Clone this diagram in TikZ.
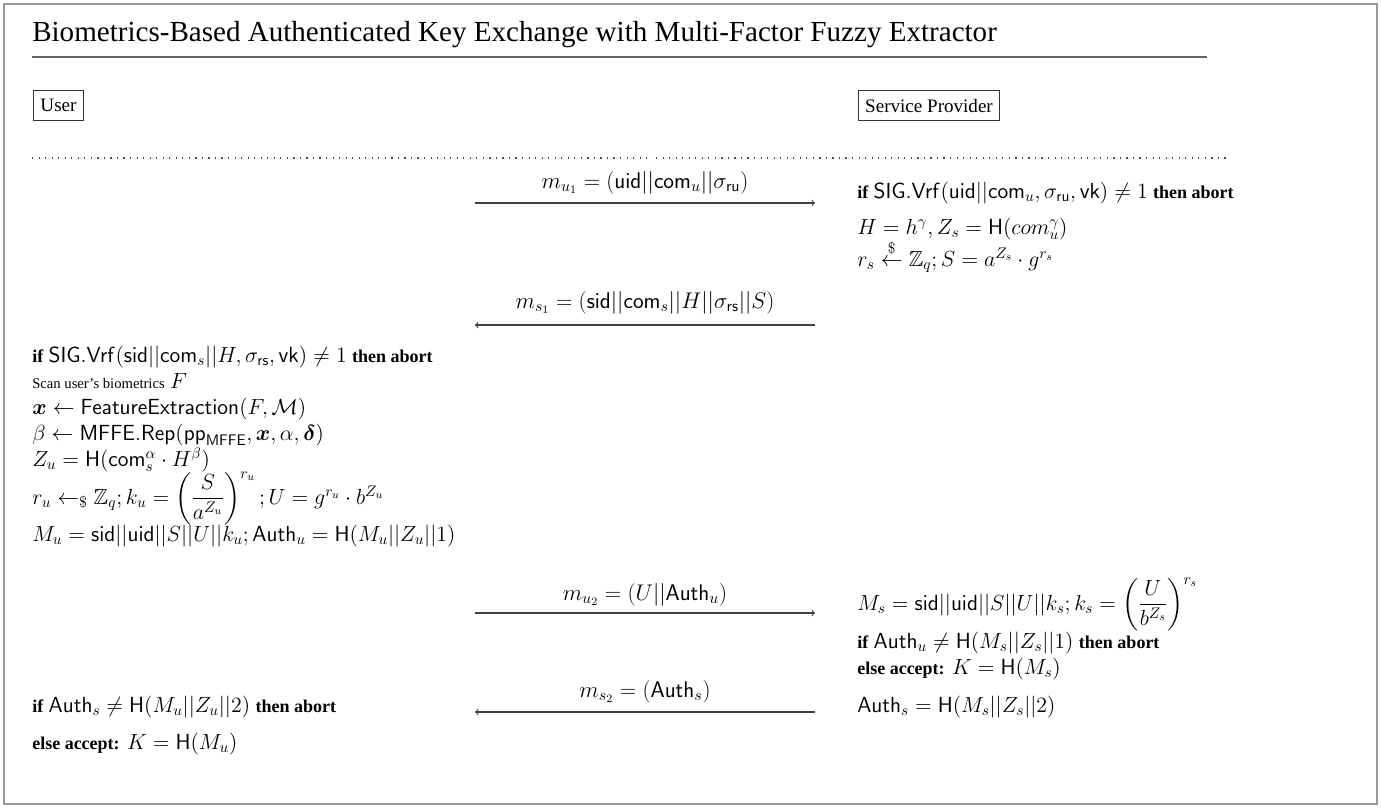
\RequirePackage{fix-cm}
\documentclass[tikz,border=0pt]{standalone}
\usepackage{amsmath,amssymb,bm}
\usepackage[no-math]{fontspec}
\setmainfont{Liberation Serif}
\newcommand\tx[1]{{\fontsize{11}{13}\selectfont #1}}
\newcommand\tb[1]{{\fontsize{13.5}{16}\selectfont\bfseries #1}}
\tikzset{
  line/.style={anchor=base west, inner sep=0pt, font=\fontsize{16.4}{20}\selectfont},
  lbl/.style={anchor=base, inner sep=0pt, font=\fontsize{17}{20}\selectfont},
  party/.style={draw=black!80, line width=0.6pt, inner xsep=5pt, minimum height=22.5pt, font=\fontsize{14.3}{16}\selectfont},
  msg/.style={draw=black!75, line width=0.8pt, ->},
  sep/.style={draw=black!70, line width=0.9pt, dash pattern=on 0.9pt off 4pt},
}
\begin{document}
\begin{tikzpicture}[x=0.75pt,y=-0.75pt]
\useasboundingbox (0,0) rectangle (1382,808);
\draw[black!40, line width=0.8pt] (4,4) rectangle (1377,804);
\node[anchor=base west, inner sep=0pt, font=\fontsize{21.8}{25}\selectfont] (title) at (32,41)
  {Biometrics-Based Authenticated Key Exchange with Multi-Factor Fuzzy Extractor};
\coordinate (ulA) at (32,57);
\coordinate (ulB) at (1207,57);
\draw[black!60, line width=1.5pt] (ulA) -- (ulB);
\node[party] (user) at (58.5,105) {User};
\node[party] (sp) at (929,105.5) {Service Provider};
\coordinate (d1) at (32,158); \coordinate (d2) at (650,158);
\coordinate (d3) at (656,158); \coordinate (d4) at (1230,158);
\draw[sep] (d1) -- (d2);
\draw[sep] (d3) -- (d4);
% message 1
\coordinate (a1s) at (475,203); \coordinate (a1e) at (815,203);
\draw[msg] (a1s) -- (a1e);
\node[lbl] (m1) at (645,188) {$m_{u_1} = (\mathsf{uid}||\mathsf{com}_u||\sigma_{\mathsf{ru}})$};
% server 1
\node[line] (r1) at (857,198) {\tb{if} $\mathsf{SIG.Vrf}(\mathsf{uid}||\mathsf{com}_u, \sigma_{\mathsf{ru}}, \mathsf{vk}) \neq 1$ \tb{then abort}};
\node[line] (r2) at (857,234) {$H = h^{\gamma}, Z_s = \mathsf{H}(com_u^{\gamma})$};
\node[line] (r3) at (857,266) {$r_s \overset{\$}{\leftarrow} \mathbb{Z}_q; S = a^{Z_s} \cdot g^{r_s}$};
% message 2
\coordinate (a2s) at (815,325); \coordinate (a2e) at (475,325);
\draw[msg] (a2s) -- (a2e);
\node[lbl] (m2) at (645,308) {$m_{s_1} = (\mathsf{sid}||\mathsf{com}_s||H||\sigma_{\mathsf{rs}}||S)$};
% user 1
\node[line] (u1) at (32,362) {\tb{if} $\mathsf{SIG.Vrf}(\mathsf{sid}||\mathsf{com}_s||H, \sigma_{\mathsf{rs}}, \mathsf{vk}) \neq 1$ \tb{then abort}};
\node[line] (u2) at (32,388) {\tx{Scan user's biometrics} $F$};
\node[line] (u3) at (32,414) {$\boldsymbol{x} \leftarrow \mathsf{FeatureExtraction}(F, \mathcal{M})$};
\node[line] (u4) at (32,440) {$\beta \leftarrow \mathsf{MFFE.Rep}(\mathsf{pp}_{\mathsf{MFFE}}, \boldsymbol{x}, \alpha, \boldsymbol{\delta})$};
\node[line] (u5) at (32,466) {$Z_u = \mathsf{H}(\mathsf{com}_s^{\alpha} \cdot H^{\beta})$};
\node[line] (u6) at (32,504) {$r_u \leftarrow_{\$} \mathbb{Z}_q; k_u = \left(\dfrac{S}{a^{Z_u}}\right)^{r_u}; U = g^{r_u} \cdot b^{Z_u}$};
\node[line] (u7) at (32,541) {$M_u = \mathsf{sid}||\mathsf{uid}||S||U||k_u; \mathsf{Auth}_u = \mathsf{H}(M_u||Z_u||1)$};
% message 3
\coordinate (a3s) at (475,613); \coordinate (a3e) at (815,613);
\draw[msg] (a3s) -- (a3e);
\node[lbl] (m3) at (645,600) {$m_{u_2} = (U||\mathsf{Auth}_u)$};
% server 2
\node[line] (r4) at (857,610) {$M_s = \mathsf{sid}||\mathsf{uid}||S||U||k_s; k_s = \left(\dfrac{U}{b^{Z_s}}\right)^{r_s}$};
\node[line] (r5) at (857,648) {\tb{if} $\mathsf{Auth}_u \neq \mathsf{H}(M_s||Z_s||1)$ \tb{then abort}};
\node[line] (r6) at (857,674) {\tb{else accept:} $K = \mathsf{H}(M_s)$};
% message 4
\coordinate (a4s) at (815,712); \coordinate (a4e) at (475,712);
\draw[msg] (a4s) -- (a4e);
\node[lbl] (m4) at (645,697) {$m_{s_2} = (\mathsf{Auth}_s)$};
\node[line] (r7) at (857,712) {$\mathsf{Auth}_s = \mathsf{H}(M_s||Z_s||2)$};
% user 2
\node[line] (u8) at (32,712) {\tb{if} $\mathsf{Auth}_s \neq \mathsf{H}(M_u||Z_u||2)$ \tb{then abort}};
\node[line] (u9) at (32,749) {\tb{else accept:} $K = \mathsf{H}(M_u)$};
\end{tikzpicture}
\end{document}
